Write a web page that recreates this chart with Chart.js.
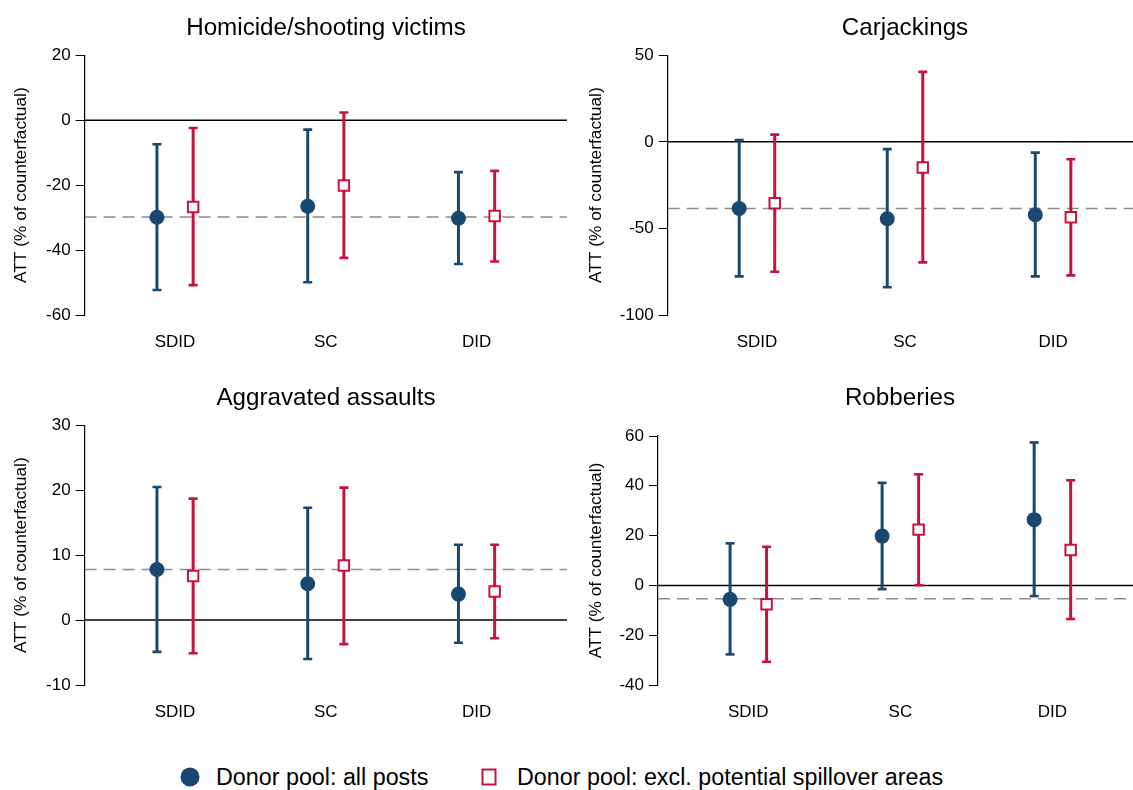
<!DOCTYPE html>
<html>
<head>
<meta charset="utf-8">
<script src="https://cdn.jsdelivr.net/npm/chart.js@4.4.1/dist/chart.umd.min.js"></script>
<style>
  html, body { margin:0; padding:0; background:#fff; width:1133px; height:790px; overflow:hidden; }
  body { position:relative; font-family:"Liberation Sans", Arial, Helvetica, sans-serif; color:#000; }
  canvas { position:absolute; }
  .ttl { position:absolute; font-size:24.2px; line-height:28px; white-space:nowrap; transform:translate(-50%,-50%); }
  .leg { position:absolute; font-size:23.3px; line-height:28px; white-space:nowrap; transform:translateY(-50%); }
  .sym { position:absolute; transform:translate(-50%,-50%); box-sizing:border-box; }
</style>
</head>
<body>
<canvas id="c1"></canvas>
<canvas id="c2"></canvas>
<canvas id="c3"></canvas>
<canvas id="c4"></canvas>
<div class="ttl" id="t1"></div>
<div class="ttl" id="t2"></div>
<div class="ttl" id="t3"></div>
<div class="ttl" id="t4"></div>
<div class="sym" style="left:190px; top:777px; width:19px; height:19px; border-radius:50%; background:#1a476f;"></div>
<div class="leg" id="l1" style="left:216px; top:777px;"></div>
<div class="sym" style="left:489px; top:777px; width:15px; height:17px; border:2.5px solid #c6123f; background:#fff;"></div>
<div class="leg" id="l2" style="left:517px; top:777px;"></div>
<script>
// ---------------- DATA ----------------
const categories = ['SDID', 'SC', 'DID'];
const seriesNames = ['Donor pool: all posts', 'Donor pool: excl. potential spillover areas'];
const panelTitles = ['Homicide/shooting victims', 'Carjackings', 'Aggravated assaults', 'Robberies'];
const yAxisTitle = 'ATT (% of counterfactual)';

// Homicide/shooting victims
const homAll = [-29.9, -26.5, -30.2];
const homAllLo = [-52.3, -49.9, -44.3];
const homAllHi = [-7.4, -2.9, -16.0];
const homExcl = [-26.7, -20.1, -29.5];
const homExclLo = [-50.8, -42.4, -43.5];
const homExclHi = [-2.4, 2.4, -15.6];
const homRef = -29.8;
const homTicks = [-60, -40, -20, 0, 20];

// Carjackings
const carAll = [-38.5, -44.4, -42.1];
const carAllLo = [-77.7, -84.0, -77.7];
const carAllHi = [1.0, -4.2, -6.2];
const carExcl = [-35.4, -14.8, -43.5];
const carExclLo = [-75.0, -69.6, -77.1];
const carExclHi = [4.2, 40.4, -10.0];
const carRef = -38.5;
const carTicks = [-100, -50, 0, 50];

// Aggravated assaults
const aggAll = [7.8, 5.6, 4.0];
const aggAllLo = [-4.9, -6.0, -3.5];
const aggAllHi = [20.5, 17.3, 11.6];
const aggExcl = [6.8, 8.4, 4.4];
const aggExclLo = [-5.1, -3.7, -2.8];
const aggExclHi = [18.7, 20.4, 11.6];
const aggRef = 7.8;
const aggTicks = [-10, 0, 10, 20, 30];

// Robberies
const robAll = [-5.6, 19.8, 26.4];
const robAllLo = [-27.7, -1.5, -4.3];
const robAllHi = [16.9, 41.2, 57.4];
const robExcl = [-7.6, 22.4, 14.2];
const robExclLo = [-30.7, 0.1, -13.5];
const robExclHi = [15.5, 44.6, 42.2];
const robRef = -5.4;
const robTicks = [-40, -20, 0, 20, 40, 60];

// ---------------- STYLE / LAYOUT ----------------
const BLUE = '#1a476f';
const RED = '#c6123f';
const FONT = '"Liberation Sans", Arial, Helvetica, sans-serif';
const OFFSET = 0.12;

const panels = [
  { id:'c1', left:0,   top:0,   w:567, h:370, axisW:84.6, areaTop:55.3, xmin:0.4, xmax:3.6,  titlePad:10.6, tx:326, ty:27,
    all:homAll, allLo:homAllLo, allHi:homAllHi, ex:homExcl, exLo:homExclLo, exHi:homExclHi, ref:homRef, ticks:homTicks },
  { id:'c2', left:575, top:0,   w:558, h:370, axisW:92.7, areaTop:55.3, xmin:0.397, xmax:3.54, titlePad:10.8, tx:905, ty:27,
    all:carAll, allLo:carAllLo, allHi:carAllHi, ex:carExcl, exLo:carExclLo, exHi:carExclHi, ref:carRef, ticks:carTicks },
  { id:'c3', left:0,   top:370, w:567, h:370, axisW:84.6, areaTop:55.3, xmin:0.4, xmax:3.6,  titlePad:10.6, tx:326, ty:397,
    all:aggAll, allLo:aggAllLo, allHi:aggAllHi, ex:aggExcl, exLo:aggExclLo, exHi:aggExclHi, ref:aggRef, ticks:aggTicks },
  { id:'c4', left:575, top:370, w:558, h:370, axisW:83,   areaTop:66,   xmin:0.406, xmax:3.53, titlePad:10.8, tx:900, ty:397,
    all:robAll, allLo:robAllLo, allHi:robAllHi, ex:robExcl, exLo:robExclLo, exHi:robExclHi, ref:robRef, ticks:robTicks }
];

function barData(lo, hi, off) {
  const d = [];
  categories.forEach((c, i) => {
    const x = i + 1 + off;
    d.push({ x: x, y: lo[i] });
    d.push({ x: x, y: hi[i] });
    d.push({ x: x, y: null });
  });
  return d;
}
function pointData(v, off) {
  return categories.map((c, i) => ({ x: i + 1 + off, y: v[i] }));
}

panels.forEach((p, k) => {
  const cv = document.getElementById(p.id);
  cv.width = p.w; cv.height = p.h;
  cv.style.left = p.left + 'px'; cv.style.top = p.top + 'px';
  cv.style.width = p.w + 'px'; cv.style.height = p.h + 'px';

  const t = document.getElementById('t' + (k + 1));
  t.textContent = panelTitles[k];
  t.style.left = p.tx + 'px'; t.style.top = p.ty + 'px';

  const ymin = p.ticks[0], ymax = p.ticks[p.ticks.length - 1];
  const bottomY = 315;

  new Chart(cv, {
    type: 'scatter',
    data: {
      datasets: [
        { label: seriesNames[0], data: pointData(p.all, -OFFSET), pointStyle: 'circle', pointRadius: 7.5,
          backgroundColor: BLUE, borderColor: BLUE, pointBorderWidth: 0, order: 0, showLine: false },
        { label: seriesNames[1], data: pointData(p.ex, OFFSET), pointStyle: 'rect', pointRadius: 7.4,
          backgroundColor: '#ffffff', borderColor: RED, pointBorderWidth: 2, order: 0, showLine: false },
        { type: 'line', data: barData(p.allLo, p.allHi, -OFFSET), borderColor: BLUE, borderWidth: 3,
          pointStyle: 'line', pointRadius: 4.5, pointBorderWidth: 2.6, pointBorderColor: BLUE, spanGaps: false, order: 1 },
        { type: 'line', data: barData(p.exLo, p.exHi, OFFSET), borderColor: RED, borderWidth: 3,
          pointStyle: 'line', pointRadius: 4.5, pointBorderWidth: 2.6, pointBorderColor: RED, spanGaps: false, order: 1 },
        { type: 'line', data: [{ x: p.xmin, y: 0 }, { x: p.xmax, y: 0 }], borderColor: '#000', borderWidth: 1.5,
          pointRadius: 0, order: 2 },
        { type: 'line', data: [{ x: p.xmin, y: p.ref }, { x: p.xmax, y: p.ref }], borderColor: '#8c8c8c', borderWidth: 1.5,
          borderDash: [12, 7], pointRadius: 0, order: 2 }
      ]
    },
    options: {
      responsive: false,
      animation: false,
      devicePixelRatio: 1,
      layout: { autoPadding: false, padding: { top: p.areaTop, right: 0, bottom: 0, left: 0 } },
      plugins: { legend: { display: false }, tooltip: { enabled: false } },
      scales: {
        x: {
          type: 'linear', min: p.xmin, max: p.xmax,
          grid: { display: false, drawTicks: false, tickLength: 0 },
          border: { display: false },
          afterBuildTicks: (s) => { s.ticks = categories.map((c, i) => ({ value: i + 1 })); },
          afterFit: (s) => { s.height = p.h - bottomY; },
          ticks: { color: '#000', font: { family: FONT, size: 17 }, padding: 17, maxRotation: 0, autoSkip: false,
                   callback: (v) => categories[Math.round(v) - 1] }
        },
        y: {
          type: 'linear', min: ymin, max: ymax,
          afterBuildTicks: (s) => { s.ticks = p.ticks.map(v => ({ value: v })); },
          afterFit: (s) => { s.width = p.axisW; },
          grid: { display: true, drawOnChartArea: false, drawTicks: true, tickLength: 9, color: '#000', lineWidth: 1 },
          border: { display: true, color: '#000', width: 1.2 },
          ticks: { color: '#000', font: { family: FONT, size: 17 }, padding: 5 },
          title: { display: true, text: yAxisTitle, color: '#000', font: { family: FONT, size: 17.3 },
                   padding: { top: p.titlePad, bottom: 0 } }
        }
      }
    }
  });
});

document.getElementById('l1').textContent = seriesNames[0];
document.getElementById('l2').textContent = seriesNames[1];
</script>
</body>
</html>
